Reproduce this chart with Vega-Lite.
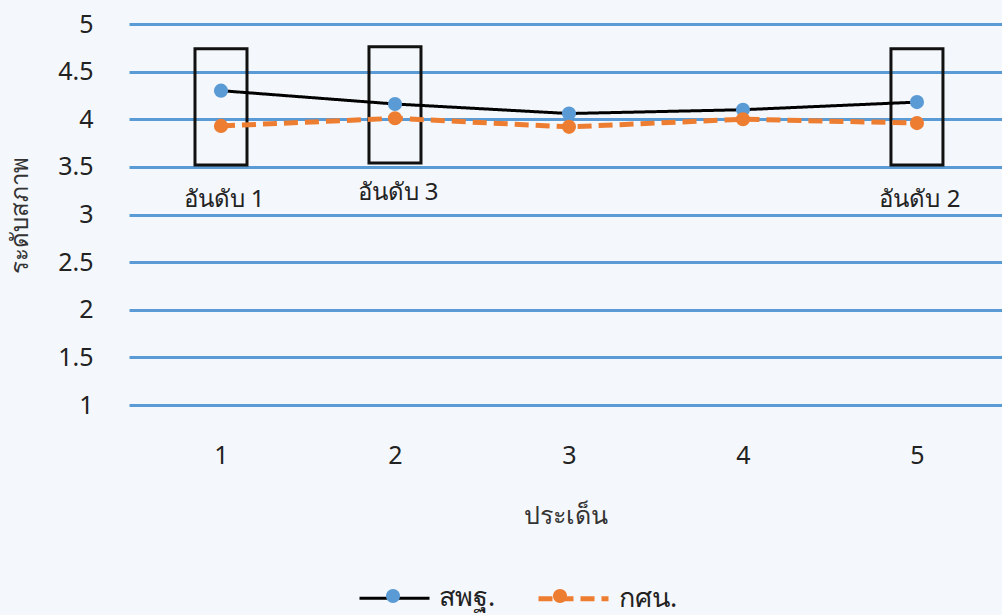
{
  "$schema": "https://vega.github.io/schema/vega-lite/v6.json",
  "width": 873,
  "height": 381,
  "autosize": {"type": "none"},
  "padding": {"left": 129, "top": 24, "right": 0, "bottom": 210},
  "background": "#f4f7fb",
  "config": {
    "view": {"stroke": null},
    "font": "Noto Sans",
    "axis": {"labelFont": "Noto Sans", "titleFont": "Noto Sans", "titleFontWeight": "normal"}
  },
  "datasets": {
    "scores": [
      {"p": 1, "series": "สพฐ.", "v": 4.30},
      {"p": 2, "series": "สพฐ.", "v": 4.16},
      {"p": 3, "series": "สพฐ.", "v": 4.06},
      {"p": 4, "series": "สพฐ.", "v": 4.10},
      {"p": 5, "series": "สพฐ.", "v": 4.18},
      {"p": 1, "series": "กศน.", "v": 3.93},
      {"p": 2, "series": "กศน.", "v": 4.01},
      {"p": 3, "series": "กศน.", "v": 3.92},
      {"p": 4, "series": "กศน.", "v": 4.00},
      {"p": 5, "series": "กศน.", "v": 3.96}
    ],
    "boxes": [
      {"p": 1, "lo": 3.52, "hi": 4.74},
      {"p": 2, "lo": 3.54, "hi": 4.76},
      {"p": 5, "lo": 3.52, "hi": 4.74}
    ],
    "labels": [
      {"p": 1, "v": 3.15, "t": "อันดับ 1"},
      {"p": 2, "v": 3.23, "t": "อันดับ 3"},
      {"p": 5, "v": 3.15, "t": "อันดับ 2"}
    ]
  },
  "encoding": {
    "x": {
      "field": "p", "type": "quantitative",
      "scale": {"domain": [0.5, 5.46], "nice": false, "zero": false},
      "axis": {
        "values": [1, 2, 3, 4, 5], "grid": false, "domain": false, "ticks": false,
        "labelPadding": 38, "labelFontSize": 25, "labelColor": "#222222",
        "title": "ประเด็น", "titleFontSize": 25, "titleColor": "#333333",
        "titleBaseline": "middle", "titleY": 110
      }
    }
  },
  "layer": [
    {
      "data": {"name": "boxes"},
      "mark": {"type": "bar", "orient": "vertical", "size": 52, "fill": "transparent", "stroke": "#111111", "strokeWidth": 3},
      "encoding": {
        "y": {
          "field": "lo", "type": "quantitative",
          "scale": {"domain": [1, 5], "nice": false, "zero": false},
          "axis": {
            "values": [1, 1.5, 2, 2.5, 3, 3.5, 4, 4.5, 5], "format": "~g",
            "domain": false, "ticks": false, "grid": true,
            "gridColor": "#5b9bd5", "gridWidth": 3,
            "labelPadding": 36, "labelFontSize": 25, "labelColor": "#222222",
            "title": "ระดับสภาพ", "titleFontSize": 24, "titleColor": "#333333",
            "titleX": -109, "titleY": 191, "titleAngle": -90, "titleBaseline": "middle"
          }
        },
        "y2": {"field": "hi"}
      }
    },
    {
      "data": {"name": "labels"},
      "mark": {"type": "text", "fontSize": 24, "color": "#222222", "dx": 3},
      "encoding": {
        "y": {"field": "v", "type": "quantitative"},
        "text": {"field": "t"}
      }
    },
    {
      "data": {"name": "scores"},
      "mark": {"type": "line"},
      "encoding": {
        "y": {"field": "v", "type": "quantitative"},
        "stroke": {
          "field": "series", "type": "nominal",
          "scale": {"domain": ["สพฐ.", "กศน."], "range": ["#000000", "#ed7d31"]},
          "legend": {
            "orient": "none", "legendX": 229, "legendY": 537, "direction": "horizontal",
            "title": null, "labelFontSize": 27, "labelColor": "#222222",
            "symbolType": "M-1,0H1", "symbolSize": 4900, "symbolStrokeWidth": 4,
            "labelOffset": 8, "columnPadding": 32
          }
        },
        "strokeDash": {
          "field": "series", "type": "nominal",
          "scale": {"domain": ["สพฐ.", "กศน."], "range": [[1, 0], [14, 7]]}
        },
        "strokeWidth": {
          "field": "series", "type": "nominal",
          "scale": {"domain": ["สพฐ.", "กศน."], "range": [3, 5]},
          "legend": null
        }
      }
    },
    {
      "data": {"name": "scores"},
      "mark": {"type": "point", "filled": true, "shape": "circle", "size": 200, "opacity": 1},
      "encoding": {
        "y": {"field": "v", "type": "quantitative"},
        "fill": {
          "field": "series", "type": "nominal", "sort": "descending",
          "scale": {"range": ["#5b9bd5", "#ed7d31"]},
          "legend": {
            "orient": "none", "legendX": 229, "legendY": 537, "direction": "horizontal",
            "title": null, "labelFontSize": 27, "labelOpacity": 0,
            "symbolType": "M0.2,0A0.2,0.2 0 1,1 -0.2,0A0.2,0.2 0 1,1 0.2,0",
            "symbolSize": 4900, "symbolStrokeWidth": 0,
            "labelOffset": 8, "columnPadding": 32
          }
        }
      }
    }
  ]
}
